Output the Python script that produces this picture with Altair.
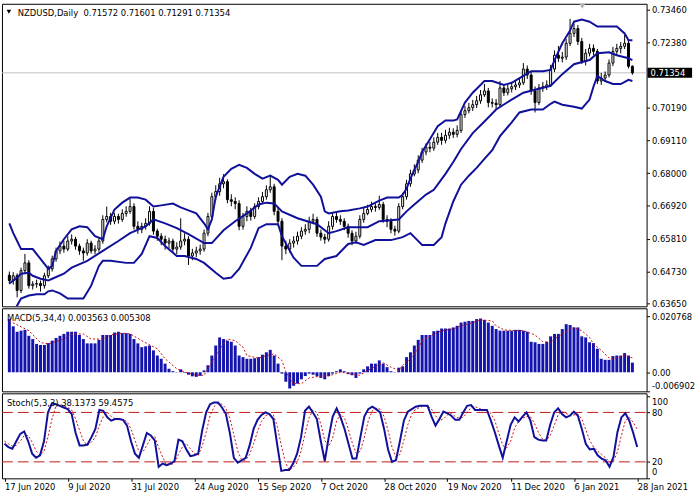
import json
import altair as alt
import pandas as pd

# ---------------- data ----------------
tick_idx = [0, 16, 32, 48, 64, 80, 96, 112, 128, 144, 160]
tick_labels = ["17 Jun 2020", "9 Jul 2020", "31 Jul 2020", "24 Aug 2020", "15 Sep 2020",
               "7 Oct 2020", "28 Oct 2020", "19 Nov 2020", "11 Dec 2020", "6 Jan 2021", "28 Jan 2021"]

opens = [0.6460,0.6442,0.6458,0.6409,0.6475,0.6501,0.6425,0.6430,0.6432,0.6425,
0.6458,0.6481,0.6514,0.6541,0.6557,0.6547,0.6574,0.6580,0.6557,0.6541,
0.6534,0.6567,0.6541,0.6547,0.6574,0.6646,0.6656,0.6640,0.6656,0.6646,
0.6666,0.6673,0.6689,0.6623,0.6613,0.6623,0.6633,0.6673,0.6607,0.6590,
0.6580,0.6567,0.6574,0.6547,0.6554,0.6574,0.6580,0.6524,0.6534,0.6541,
0.6547,0.6600,0.6656,0.6722,0.6739,0.6765,0.6772,0.6712,0.6706,0.6699,
0.6623,0.6656,0.6673,0.6656,0.6689,0.6706,0.6722,0.6745,0.6755,0.6673,
0.6640,0.6557,0.6547,0.6567,0.6574,0.6590,0.6607,0.6613,0.6640,0.6646,
0.6600,0.6587,0.6580,0.6623,0.6656,0.6646,0.6640,0.6623,0.6600,0.6574,
0.6590,0.6646,0.6666,0.6679,0.6689,0.6686,0.6696,0.6646,0.6640,0.6613,
0.6607,0.6689,0.6722,0.6765,0.6798,0.6811,0.6844,0.6871,0.6887,0.6884,
0.6904,0.6920,0.6910,0.6927,0.6937,0.6930,0.6943,0.6996,0.7009,0.7019,
0.7029,0.7042,0.7062,0.7075,0.7036,0.7034,0.7029,0.7085,0.7069,0.7082,
0.7089,0.7095,0.7102,0.7148,0.7128,0.7075,0.7036,0.7085,0.7089,0.7095,
0.7148,0.7194,0.7184,0.7188,0.7234,0.7267,0.7283,0.7240,0.7174,0.7201,
0.7217,0.7207,0.7108,0.7118,0.7128,0.7168,0.7207,0.7217,0.7224,0.7234,
0.71572]

highs = [0.6472,0.6470,0.6466,0.6485,0.6531,0.6510,0.6440,0.6445,0.6442,0.6468,
0.6492,0.6525,0.6552,0.6572,0.6575,0.6590,0.6596,0.6588,0.6565,0.6552,
0.6580,0.6575,0.6560,0.6585,0.6660,0.6689,0.6668,0.6668,0.6665,0.6680,
0.6690,0.6716,0.6700,0.6640,0.6635,0.6650,0.6690,0.6685,0.6615,0.6600,
0.6592,0.6585,0.6582,0.6570,0.6650,0.6600,0.6590,0.6548,0.6555,0.6562,
0.6612,0.6668,0.6735,0.6760,0.6785,0.6797,0.6780,0.6730,0.6720,0.6710,
0.6668,0.6690,0.6685,0.6700,0.6720,0.6738,0.6760,0.6795,0.6765,0.6685,
0.6650,0.6575,0.6580,0.6590,0.6605,0.6620,0.6630,0.6655,0.6665,0.6655,
0.6612,0.6598,0.6640,0.6670,0.6668,0.6660,0.6650,0.6632,0.6610,0.6605,
0.6660,0.6685,0.6695,0.6705,0.6700,0.6725,0.6705,0.6660,0.6650,0.6625,
0.6700,0.6735,0.6778,0.6812,0.6830,0.6860,0.6885,0.6900,0.6905,0.6920,
0.6935,0.6935,0.6945,0.6952,0.6950,0.6960,0.7010,0.7025,0.7035,0.7045,
0.7058,0.7078,0.7098,0.7085,0.7050,0.7048,0.7108,0.7098,0.7095,0.7105,
0.7110,0.7118,0.7168,0.7160,0.7138,0.7090,0.7098,0.7105,0.7110,0.7162,
0.7210,0.7225,0.7205,0.7248,0.7315,0.7300,0.7295,0.7252,0.7215,0.7232,
0.7230,0.7215,0.7135,0.7140,0.7180,0.7222,0.7232,0.7238,0.7262,0.7245,
0.71601]

lows = [0.6430,0.6428,0.6386,0.6400,0.6466,0.6415,0.6412,0.6418,0.6405,0.6415,
0.6450,0.6472,0.6505,0.6530,0.6535,0.6540,0.6562,0.6545,0.6528,0.6508,
0.6525,0.6532,0.6530,0.6538,0.6565,0.6636,0.6628,0.6630,0.6632,0.6638,
0.6655,0.6665,0.6612,0.6598,0.6600,0.6612,0.6625,0.6595,0.6575,0.6560,
0.6545,0.6550,0.6535,0.6530,0.6545,0.6560,0.6494,0.6510,0.6520,0.6528,
0.6538,0.6590,0.6645,0.6710,0.6725,0.6750,0.6700,0.6690,0.6680,0.6610,
0.6612,0.6640,0.6642,0.6648,0.6680,0.6698,0.6712,0.6735,0.6660,0.6625,
0.6510,0.6530,0.6535,0.6552,0.6562,0.6580,0.6595,0.6600,0.6630,0.6588,
0.6575,0.6565,0.6572,0.6612,0.6635,0.6628,0.6610,0.6585,0.6560,0.6565,
0.6582,0.6635,0.6660,0.6670,0.6672,0.6678,0.6635,0.6620,0.6600,0.6592,
0.6600,0.6680,0.6712,0.6755,0.6790,0.6800,0.6835,0.6860,0.6870,0.6875,
0.6895,0.6895,0.6900,0.6915,0.6918,0.6920,0.6935,0.6985,0.7000,0.7008,
0.7018,0.7032,0.7055,0.7020,0.7020,0.7012,0.7020,0.7058,0.7060,0.7070,
0.7078,0.7085,0.7095,0.7115,0.7062,0.7003,0.7028,0.7072,0.7078,0.7088,
0.7138,0.7172,0.7170,0.7178,0.7225,0.7255,0.7228,0.7165,0.7160,0.7190,
0.7195,0.7098,0.7095,0.7105,0.7120,0.7158,0.7195,0.7200,0.7215,0.7150,
0.71291]

closes = [0.6442,0.6458,0.6409,0.6475,0.6501,0.6425,0.6430,0.6432,0.6425,0.6458,
0.6481,0.6514,0.6541,0.6557,0.6547,0.6574,0.6580,0.6557,0.6541,0.6534,
0.6567,0.6541,0.6547,0.6574,0.6646,0.6656,0.6640,0.6656,0.6646,0.6666,
0.6673,0.6689,0.6623,0.6613,0.6623,0.6633,0.6673,0.6607,0.6590,0.6580,
0.6567,0.6574,0.6547,0.6554,0.6574,0.6580,0.6524,0.6534,0.6541,0.6547,
0.6600,0.6656,0.6722,0.6739,0.6765,0.6772,0.6712,0.6706,0.6699,0.6623,
0.6656,0.6673,0.6656,0.6689,0.6706,0.6722,0.6745,0.6755,0.6673,0.6640,
0.6557,0.6547,0.6567,0.6574,0.6590,0.6607,0.6613,0.6640,0.6646,0.6600,
0.6587,0.6580,0.6623,0.6656,0.6646,0.6640,0.6623,0.6600,0.6574,0.6590,
0.6646,0.6666,0.6679,0.6689,0.6686,0.6696,0.6646,0.6640,0.6613,0.6607,
0.6689,0.6722,0.6765,0.6798,0.6811,0.6844,0.6871,0.6887,0.6884,0.6904,
0.6920,0.6910,0.6927,0.6937,0.6930,0.6943,0.6996,0.7009,0.7019,0.7029,
0.7042,0.7062,0.7075,0.7036,0.7034,0.7029,0.7085,0.7069,0.7082,0.7089,
0.7095,0.7102,0.7148,0.7128,0.7075,0.7036,0.7085,0.7089,0.7095,0.7148,
0.7194,0.7184,0.7188,0.7234,0.7267,0.7283,0.7240,0.7174,0.7201,0.7217,
0.7207,0.7108,0.7118,0.7128,0.7168,0.7207,0.7217,0.7224,0.7234,0.7157,
0.71354]

# Bollinger bands (20, 2) read at selected bars
upper_i = [0,1,2,3,6,8,10,11,12,14,16,18,20,22,24,25,27,29,31,33,35,37,39,42,44,46,48,50,51,52,
53,55,57,59,61,63,65,67,69,70,72,74,76,78,80,81,82,85,87,90,92,95,97,100,101,102,103,104,105,106,
108,110,112,114,115,117,119,122,124,127,129,132,134,137,139,140,142,144,145,147,149,151,154,156,158,159,160]
upper_v = [0.6633,0.6600,0.6574,0.6547,0.6547,0.6514,0.6481,0.6491,0.6541,0.6580,
0.6613,0.6623,0.6620,0.6590,0.6580,0.6623,0.6679,0.6702,0.6719,0.6719,
0.6712,0.6689,0.6693,0.6699,0.6686,0.6676,0.6666,0.6633,0.6613,0.6646,
0.6722,0.6788,0.6815,0.6828,0.6818,0.6798,0.6782,0.6792,0.6778,0.6762,
0.6788,0.6798,0.6792,0.6762,0.6722,0.6673,0.6666,0.6673,0.6676,0.6683,
0.6689,0.6709,0.6719,0.6719,0.6728,0.6749,0.6782,0.6811,0.6838,0.6871,
0.6914,0.6957,0.6976,0.6976,0.6980,0.7036,0.7069,0.7108,0.7108,0.7095,
0.7102,0.7125,0.7141,0.7141,0.7145,0.7178,0.7234,0.7277,0.7306,0.7313,
0.7306,0.7290,0.7290,0.7290,0.7267,0.7244,0.7244]

mid_i = [0,2,3,5,6,8,10,11,14,16,20,24,28,31,35,37,40,43,46,50,
52,55,58,61,64,66,68,70,74,79,82,84,87,92,95,100,102,104,107,109,
112,114,116,119,122,125,129,132,135,139,142,145,149,151,154,156,159,160]
mid_v = [0.6432,0.6452,0.6465,0.6468,0.6458,0.6448,0.6442,0.6448,0.6465,0.6485,
0.6508,0.6541,0.6574,0.6600,0.6623,0.6646,0.6633,0.6617,0.6597,0.6567,
0.6567,0.6610,0.6640,0.6666,0.6696,0.6702,0.6699,0.6673,0.6650,0.6630,
0.6600,0.6607,0.6620,0.6620,0.6640,0.6646,0.6673,0.6696,0.6729,0.6745,
0.6798,0.6838,0.6881,0.6934,0.6973,0.7013,0.7046,0.7069,0.7079,0.7092,
0.7131,0.7164,0.7178,0.7201,0.7204,0.7194,0.7184,0.7178]

lower_i = [0,2,3,5,7,9,10,11,13,15,19,20,21,23,24,26,30,32,34,36,
38,40,43,45,48,50,53,55,57,59,62,64,66,69,70,73,75,79,81,84,
87,89,91,94,98,101,103,104,106,109,111,112,114,116,118,120,122,124,126,129,
131,134,137,139,140,142,145,147,149,150,151,153,155,157,159,160]
lower_v = [0.6310,0.6359,0.6382,0.6392,0.6396,0.6396,0.6406,0.6409,0.6399,0.6382,
0.6382,0.6403,0.6425,0.6491,0.6508,0.6508,0.6501,0.6501,0.6531,0.6590,
0.6584,0.6557,0.6524,0.6524,0.6514,0.6501,0.6468,0.6448,0.6452,0.6481,
0.6551,0.6617,0.6630,0.6630,0.6590,0.6518,0.6491,0.6491,0.6514,0.6524,
0.6564,0.6570,0.6561,0.6577,0.6577,0.6587,0.6600,0.6587,0.6561,0.6561,
0.6587,0.6633,0.6706,0.6762,0.6792,0.6818,0.6848,0.6877,0.6924,0.6970,
0.7003,0.7013,0.7013,0.7032,0.7039,0.7029,0.7022,0.7016,0.7046,0.7089,
0.7125,0.7108,0.7098,0.7098,0.7112,0.7108]

# MACD(5,34,4) histogram, one value per bar
macd_hist = [0.0197,0.0170,0.0150,0.0154,0.0157,0.0135,0.0123,0.0105,0.0101,0.0101,
0.0108,0.0117,0.0127,0.0135,0.0142,0.0150,0.0150,0.0150,0.0138,0.0123,
0.0107,0.0107,0.0107,0.0120,0.0138,0.0138,0.0138,0.0147,0.0150,0.0145,
0.0145,0.0142,0.0123,0.0107,0.0093,0.0096,0.0099,0.0081,0.0062,0.0050,
0.0032,0.0013,0.0004,0.0001,0.0011,-0.0002,-0.0009,-0.0015,-0.0017,-0.0013,
0.0007,0.0026,0.0062,0.0099,0.0129,0.0123,0.0117,0.0113,0.0099,0.0062,
0.0056,0.0050,0.0050,0.0052,0.0056,0.0065,0.0074,0.0083,0.0062,0.0032,
-0.0005,-0.0035,-0.0060,-0.0050,-0.0042,-0.0026,-0.0014,-0.0005,-0.0009,-0.0015,
-0.0021,-0.0026,-0.0014,-0.0005,0.0004,0.0011,0.0004,-0.0007,-0.0011,-0.0021,
-0.0005,0.0011,0.0022,0.0032,0.0032,0.0044,0.0032,0.0019,0.0004,0.0001,
0.0017,0.0022,0.0056,0.0074,0.0099,0.0120,0.0138,0.0138,0.0138,0.0152,
0.0154,0.0162,0.0162,0.0162,0.0166,0.0172,0.0184,0.0187,0.0190,0.0190,
0.0197,0.0199,0.0194,0.0184,0.0172,0.0160,0.0154,0.0154,0.0154,0.0154,
0.0157,0.0157,0.0154,0.0150,0.0113,0.0111,0.0105,0.0105,0.0113,0.0133,
0.0142,0.0142,0.0160,0.0178,0.0175,0.0166,0.0166,0.0133,0.0129,0.0111,
0.0108,0.0087,0.0050,0.0046,0.0046,0.0060,0.0062,0.0062,0.0071,0.0062,
0.003563]

sig_i = [0,5,8,10,14,16,19,21,24,26,29,31,34,38,40,43,45,48,50,51,
53,55,56,58,60,61,64,66,68,70,71,73,75,77,80,82,85,87,90,92,
95,96,98,100,101,103,105,106,109,111,114,116,119,121,124,125,127,130,132,135,
137,139,140,142,144,145,147,149,150,152,154,155,158,160]
sig_v = [0.0190,0.0154,0.0110,0.0105,0.0123,0.0142,0.0142,0.0123,0.0123,0.0138,
0.0145,0.0142,0.0117,0.0087,0.0050,0.0013,0.0001,-0.0011,-0.0011,0.0013,
0.0062,0.0105,0.0123,0.0117,0.0093,0.0062,0.0052,0.0062,0.0068,0.0044,
0.0001,-0.0042,-0.0042,-0.0021,-0.0014,-0.0014,0.0001,-0.0005,-0.0011,0.0007,
0.0028,0.0035,0.0019,0.0007,0.0026,0.0050,0.0087,0.0117,0.0142,0.0154,
0.0160,0.0172,0.0184,0.0194,0.0190,0.0172,0.0157,0.0154,0.0154,0.0138,
0.0113,0.0111,0.0123,0.0142,0.0160,0.0166,0.0154,0.0129,0.0105,0.0081,
0.0053,0.0050,0.0062,0.005308]

# Stochastic(5,3,3)
stoch_k = [42,38,36,45,54,57,45,30,25,28,
45,80,91,90,88,86,84,78,55,40,
40,41,50,60,83,82,74,70,72,72,
71,64,45,30,25,40,55,52,46,14,
18,16,18,21,47,45,35,27,28,30,
58,80,90,92,92,86,78,55,25,19,
22,25,40,60,71,77,80,78,72,40,
9,10,10,18,30,50,82,87,80,72,
45,21,50,75,85,74,60,42,24,24,
50,75,84,87,84,80,60,35,20,22,
45,70,81,84,87,88,88,88,75,64,
72,81,79,76,71,71,80,88,89,83,
83,83,83,70,56,40,25,45,65,74,
69,75,80,70,50,47,46,46,65,80,
85,78,74,76,81,76,60,42,35,36,
28,24,22,14,26,56,74,79,70,55,
38.1373]
stoch_d = [45,42,39,40,45,52,52,44,33,28,
33,50,72,87,90,88,86,83,72,58,
45,40,44,50,64,75,80,75,72,71,
71,69,60,46,33,32,40,49,51,37,
26,16,17,18,29,38,42,36,30,28,
39,56,76,87,91,90,85,73,53,33,
22,22,29,42,57,69,76,78,77,63,
40,20,10,13,19,33,54,73,83,80,
66,46,39,49,70,78,73,59,42,30,
33,50,70,82,85,84,75,58,38,26,
29,46,65,78,84,86,88,88,84,76,
70,72,77,79,75,73,74,80,86,87,
85,83,83,79,70,55,40,37,45,61,
69,73,75,75,67,56,48,46,52,64,
77,81,79,76,77,78,72,59,46,38,
33,29,25,20,21,32,52,70,74,68,
59.4575]
stoch_levels = [20, 80]

price_ticks = [0.7346, 0.7238, 0.7019, 0.6911, 0.6800, 0.6692, 0.6581, 0.6473, 0.6365]
macd_ticks = [0.020768, 0.0, -0.006902]
macd_tick_text = ["0.020768", "0.00", "-0.006902"]
stoch_ticks = [0, 20, 80, 100]

# ---------------- tables ----------------
n = len(closes)
bars = pd.DataFrame({"i": list(range(n)), "open": opens, "high": highs, "low": lows,
                     "close": closes, "hist": macd_hist, "k": stoch_k, "d": stoch_d})
bands = pd.concat([
    pd.DataFrame({"i": upper_i, "v": upper_v, "band": "upper"}),
    pd.DataFrame({"i": mid_i, "v": mid_v, "band": "middle"}),
    pd.DataFrame({"i": lower_i, "v": lower_v, "band": "lower"}),
])
sig = pd.DataFrame({"i": sig_i, "s": sig_v})
last = pd.DataFrame({"p": [closes[-1]], "t": [f"{closes[-1]:.5f}"]})
lv = pd.DataFrame({"lvl": stoch_levels})
one = pd.DataFrame({"a": [0]})

FONT = "DejaVu Sans"
FS = 8.5
NAVY = "#10109a"
RED = "#cc1010"
W = 652
X_SCALE = alt.Scale(domain=[-0.625, 162.375], nice=False, zero=False)


def xq(axis=None):
    return alt.X("i:Q", scale=X_SCALE, axis=axis, title=None)


# ---------------- main price panel ----------------
P_SCALE = alt.Scale(domain=[0.6356, 0.73658], nice=False, zero=False)
P_AXIS = alt.Axis(orient="right", values=price_ticks, format=".5f", tickSize=3,
                  labelPadding=2, grid=False, domain=False, labelOverlap=False)


def yp(field):
    return alt.Y(f"{field}:Q", scale=P_SCALE, axis=P_AXIS, title=None)


price_line = alt.Chart(last).mark_rule(color="#c0c0c0", strokeWidth=1).encode(y=yp("p"))
wicks = alt.Chart(bars).mark_rule(color="black", strokeWidth=1, clip=True).encode(
    x=xq(), y=yp("low"), y2="high")
bodies = alt.Chart(bars).mark_bar(size=2, stroke="black", strokeWidth=1, clip=True).encode(
    x=xq(), y=yp("open"), y2="close",
    fill=alt.condition("datum.close >= datum.open", alt.value("white"), alt.value("black")))
band_lines = alt.Chart(bands).mark_line(color=NAVY, strokeWidth=2, clip=True).encode(
    x=xq(), y=yp("v"), detail="band:N")
box = alt.Chart(last).mark_rule(color="black", strokeWidth=10).encode(
    x=alt.value(653), x2=alt.value(698), y=yp("p"))
box_text = alt.Chart(last).mark_text(align="left", baseline="middle", color="white",
                                     font=FONT, fontSize=FS).encode(
    x=alt.value(656), y=yp("p"), text="t:N")
head_text = (f"NZDUSD,Daily\u00a0\u00a0{opens[-1]:.5f} {highs[-1]:.5f} "
             f"{lows[-1]:.5f} {closes[-1]:.5f}")
header = alt.Chart(one).mark_text(align="left", baseline="middle", font=FONT,
                                  fontSize=FS, color="black").encode(
    x=alt.value(16), y=alt.value(9), text=alt.value(head_text))
head_tri = alt.Chart(one).mark_point(shape="triangle-down", filled=True, color="black",
                                     size=22, opacity=1).encode(x=alt.value(7), y=alt.value(8))
shift_tri = alt.Chart(one).mark_point(shape="triangle-down", filled=True, color="#b4b4b4",
                                      size=50, opacity=1, clip=True).encode(
    x=alt.value(587), y=alt.value(2))

main = alt.layer(price_line, wicks, bodies, band_lines, box, box_text, header, head_tri,
                 shift_tri).properties(width=W, height=306)

# ---------------- MACD panel ----------------
M_SCALE = alt.Scale(domain=[-0.00706, 0.02368], nice=False, zero=False)
M_AXIS = alt.Axis(orient="right", values=macd_ticks, tickSize=3, labelPadding=2, grid=False,
                  domain=False, labelOverlap=False,
                  labelExpr=f"{json.dumps(macd_tick_text)}[indexof({json.dumps(macd_ticks)}, datum.value)]",
                  labelOffset={"condition": {"test": "datum.value < 0", "value": -5}, "value": 0})


def ym(field):
    return alt.Y(f"{field}:Q", scale=M_SCALE, axis=M_AXIS, title=None)


hist = alt.Chart(bars).mark_bar(size=3, color="#1515ae").encode(
    x=xq(), y=ym("hist"), y2=alt.datum(0))
sig_line = alt.Chart(sig).mark_line(color=RED, strokeWidth=1, strokeDash=[2, 2]).encode(
    x=xq(), y=ym("s"))
macd_text = alt.Chart(one).mark_text(align="left", baseline="middle", font=FONT, fontSize=FS,
                                     color="black").encode(
    x=alt.value(5), y=alt.value(10),
    text=alt.value(f"MACD(5,34,4) {macd_hist[-1]:.6f} {sig_v[-1]:.6f}"))
macd = alt.layer(hist, sig_line, macd_text).properties(width=W, height=84)

# ---------------- Stochastic panel ----------------
S_SCALE = alt.Scale(domain=[0, 103.2], nice=False, zero=False)
S_AXIS = alt.Axis(orient="right", values=stoch_ticks, tickSize=3, labelPadding=2, grid=False,
                  domain=False, labelOverlap=False, format="d",
                  labelOffset={"condition": [{"test": "datum.value == 100", "value": 6},
                                             {"test": "datum.value == 0", "value": -7}],
                               "value": 0})
X_AXIS = alt.Axis(values=tick_idx, labelAlign="left", labelFlush=False, labelBound=False,
                  tickSize=3, labelPadding=1, grid=False, domain=False, labelOverlap=False,
                  labelExpr=f"{json.dumps(tick_labels)}[round(datum.value / 16)]")


def ys(field):
    return alt.Y(f"{field}:Q", scale=S_SCALE, axis=S_AXIS, title=None)


levels = alt.Chart(lv).mark_rule(color="#c01818", strokeWidth=1, strokeDash=[11, 5]).encode(
    x=alt.value(0), x2=alt.value(W), y=ys("lvl"))
d_line = alt.Chart(bars).mark_line(color=RED, strokeWidth=1, strokeDash=[2, 2]).encode(
    x=xq(X_AXIS), y=ys("d"))
k_line = alt.Chart(bars).mark_line(color=NAVY, strokeWidth=2).encode(x=xq(X_AXIS), y=ys("k"))
st_text = alt.Chart(one).mark_text(align="left", baseline="middle", font=FONT, fontSize=FS,
                                   color="black").encode(
    x=alt.value(5), y=alt.value(10),
    text=alt.value(f"Stoch(5,3,3) {stoch_k[-1]:.4f} {stoch_d[-1]:.4f}"))
stoch = alt.layer(levels, d_line, k_line, st_text).properties(width=W, height=86)

chart = alt.vconcat(main, macd, stoch, spacing=2, bounds="flush").properties(
    padding=0, background="white"
).configure_view(stroke="black", strokeWidth=1).configure_axis(
    labelFont=FONT, labelFontSize=FS, labelColor="black", tickColor="black", tickWidth=1
)

chart.save("out.html", embed_options={"renderer": "svg", "actions": False})
